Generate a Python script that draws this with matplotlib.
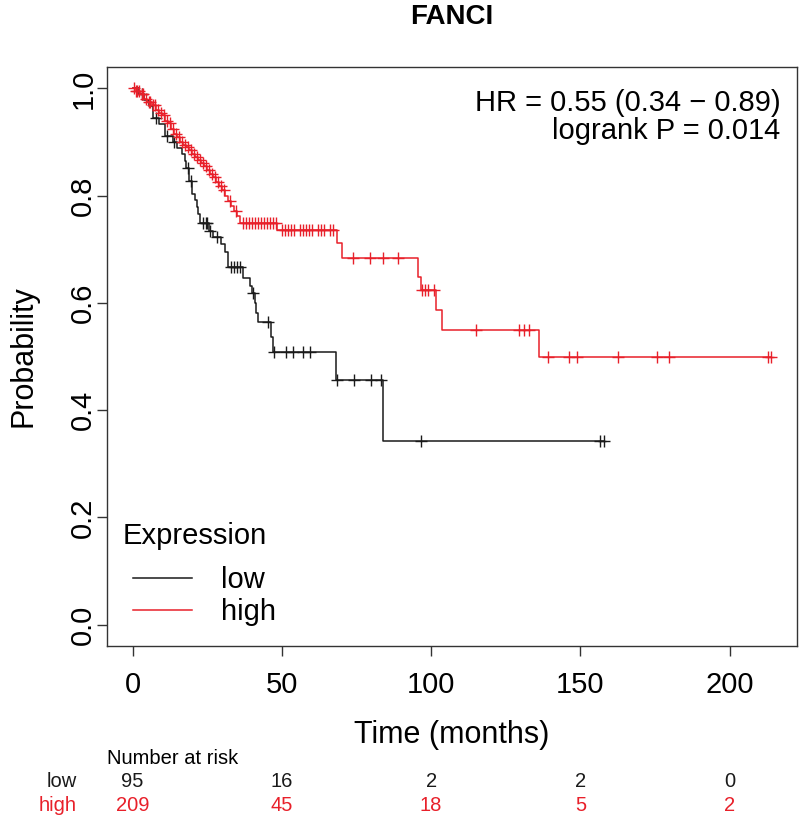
import numpy as np
import matplotlib
matplotlib.use("Agg")
import matplotlib.pyplot as plt
from matplotlib.lines import Line2D
from matplotlib.transforms import blended_transform_factory

plt.rcParams["font.family"] = ["Liberation Sans", "DejaVu Sans"]

# Kaplan-Meier steps (months, survival after the step)
low_times = [0, 2, 4, 5.5, 7, 9, 11, 13.5, 15, 16.5, 17.5, 18, 19, 20, 21, 21.5,
             22, 22.5, 25.5, 27, 29.5, 31, 32, 37, 39.5, 40, 41, 41.5, 42, 46.5,
             47, 68, 84]
low_surv = [1.0, 0.989, 0.978, 0.967, 0.945, 0.934, 0.912, 0.901, 0.889, 0.877,
            0.865, 0.852, 0.828, 0.804, 0.792, 0.779, 0.766, 0.749, 0.735, 0.722,
            0.709, 0.695, 0.667, 0.646, 0.632, 0.618, 0.600, 0.582, 0.564, 0.536,
            0.508, 0.456, 0.343]
low_end = 157.8
low_censor = [3, 8, 11.7, 14, 18.5, 19.5, 23.5, 24.5, 25, 26, 28.4, 33, 34, 35, 36,
              40.2, 45.4, 47.5, 51.5, 53.8, 57.2, 59.5, 68.5, 74.2, 79.9, 83.3,
              96.6, 156.6, 157.8]

high_times = [0, 1, 2.5, 4, 5, 6.5, 8, 9, 10, 11, 12, 13, 14, 15, 16, 17, 18, 19,
              20, 21, 22, 23, 24, 25, 26, 27, 28, 29, 30, 31, 32, 33, 34, 35, 36,
              48.5, 68.5, 70, 95.5, 96.5, 101.8, 103.5, 136.2]
high_surv = [1.0, 0.995, 0.99, 0.98, 0.975, 0.97, 0.96, 0.955, 0.95, 0.94, 0.935,
             0.925, 0.915, 0.91, 0.90, 0.895, 0.89, 0.885, 0.878, 0.872, 0.866,
             0.86, 0.855, 0.848, 0.84, 0.835, 0.826, 0.818, 0.81, 0.80, 0.79,
             0.78, 0.772, 0.763, 0.749, 0.736, 0.711, 0.684, 0.649, 0.624, 0.587,
             0.549, 0.499]
high_end = 214.0
high_censor = [0.5, 1, 1.5, 2, 3, 3.5, 4.5, 5.5, 6, 7, 7.5, 8.5, 9.5, 10.5, 11.5,
               12.5, 13.5, 14.5, 15.5, 16.5, 17.5, 18.5, 19.5, 20.5, 21.5, 22.5,
               23.5, 24.5, 25.5, 26.5, 27.5, 28.5, 29.5, 30.5, 32.5, 34.5, 37, 38,
               39, 40, 41, 42, 43, 44, 45, 46, 47, 48, 50, 51, 52, 53, 54, 56, 57,
               58, 59, 60, 62, 63, 64, 66, 67, 73.8, 79.5, 83.8, 88.8, 97, 98, 99,
               101, 115, 129.5, 131.2, 132.9, 139.3, 146.3, 148.9, 162.6, 175.6,
               179.6, 213, 213.7]

risk_times = [0, 50, 100, 150, 200]
risk_low = [95, 16, 2, 2, 0]
risk_high = [209, 45, 18, 5, 2]

c_low = "#1a1a1a"
c_high = "#e8202a"


def km_value(times, surv, t):
    i = np.searchsorted(times, t, side="right") - 1
    return np.asarray(surv)[i]


fig = plt.figure(figsize=(8, 8.21), dpi=100)
ax = fig.add_axes([107 / 800, 1 - 646 / 821, 690 / 800, 579 / 821])

for times, surv, end, cens, col in [
        (low_times, low_surv, low_end, low_censor, c_low),
        (high_times, high_surv, high_end, high_censor, c_high)]:
    tx = list(times) + [end]
    sy = list(surv) + [surv[-1]]
    ax.step(tx, sy, where="post", color=col, lw=1.1)
    ax.plot(cens, km_value(times, surv, np.array(cens)), ls="none", marker="+",
            ms=9, mew=1.0, color=col)

ax.set_xlim(-8.56, 222.56)
ax.set_ylim(-0.04, 1.04)
ax.set_xticks([0, 50, 100, 150, 200])
ax.set_yticks([0, 0.2, 0.4, 0.6, 0.8, 1.0])
ax.set_yticklabels(["0.0", "0.2", "0.4", "0.6", "0.8", "1.0"], rotation=90,
                   va="center")
ax.tick_params(axis="both", labelsize=21, length=7, width=1.0, color="#333333")
ax.tick_params(axis="x", pad=11)
ax.tick_params(axis="y", pad=0)
for sp in ax.spines.values():
    sp.set_color("#333333")
    sp.set_linewidth(1.0)

ax.set_xlabel("Time (months)", fontsize=22, labelpad=15)
ax.set_ylabel("Probability", fontsize=22, labelpad=22)
fig.text(452 / 800, 1 - 17 / 821, "FANCI", fontsize=20, fontweight="bold",
         ha="center", va="center")

ax.text(0.976, 0.962, "HR = 0.55 (0.34 \u2212 0.89)\nlogrank P = 0.014",
        transform=ax.transAxes, ha="right", va="top", fontsize=21,
        linespacing=0.98)

handles = [Line2D([], [], color=c_low, lw=1.1), Line2D([], [], color=c_high, lw=1.1)]
ax.legend(handles, ["low", "high"], loc="lower left",
          bbox_to_anchor=(0.0, -0.0115), frameon=False, fontsize=21,
          handlelength=2.0, handletextpad=1.0, labelspacing=0.15)
fig.text(123 / 800, 1 - 536 / 821, "Expression", fontsize=21, ha="left",
         va="center")

# number at risk table
tr = blended_transform_factory(ax.transData, fig.transFigure)
fig.text(107 / 800, 1 - 758 / 821, "Number at risk", fontsize=14.5,
         ha="left", va="center")
fig.text(77 / 800, 1 - 781 / 821, "low", fontsize=14.5, ha="right",
         va="center", color=c_low)
fig.text(77 / 800, 1 - 805 / 821, "high", fontsize=14.5, ha="right",
         va="center", color=c_high)
for t, nl, nh in zip(risk_times, risk_low, risk_high):
    ax.text(t, 1 - 781 / 821, str(nl), transform=tr, fontsize=14.5,
            ha="center", va="center", color=c_low)
    ax.text(t, 1 - 805 / 821, str(nh), transform=tr, fontsize=14.5,
            ha="center", va="center", color=c_high)

fig.savefig("out.png", dpi=100)
